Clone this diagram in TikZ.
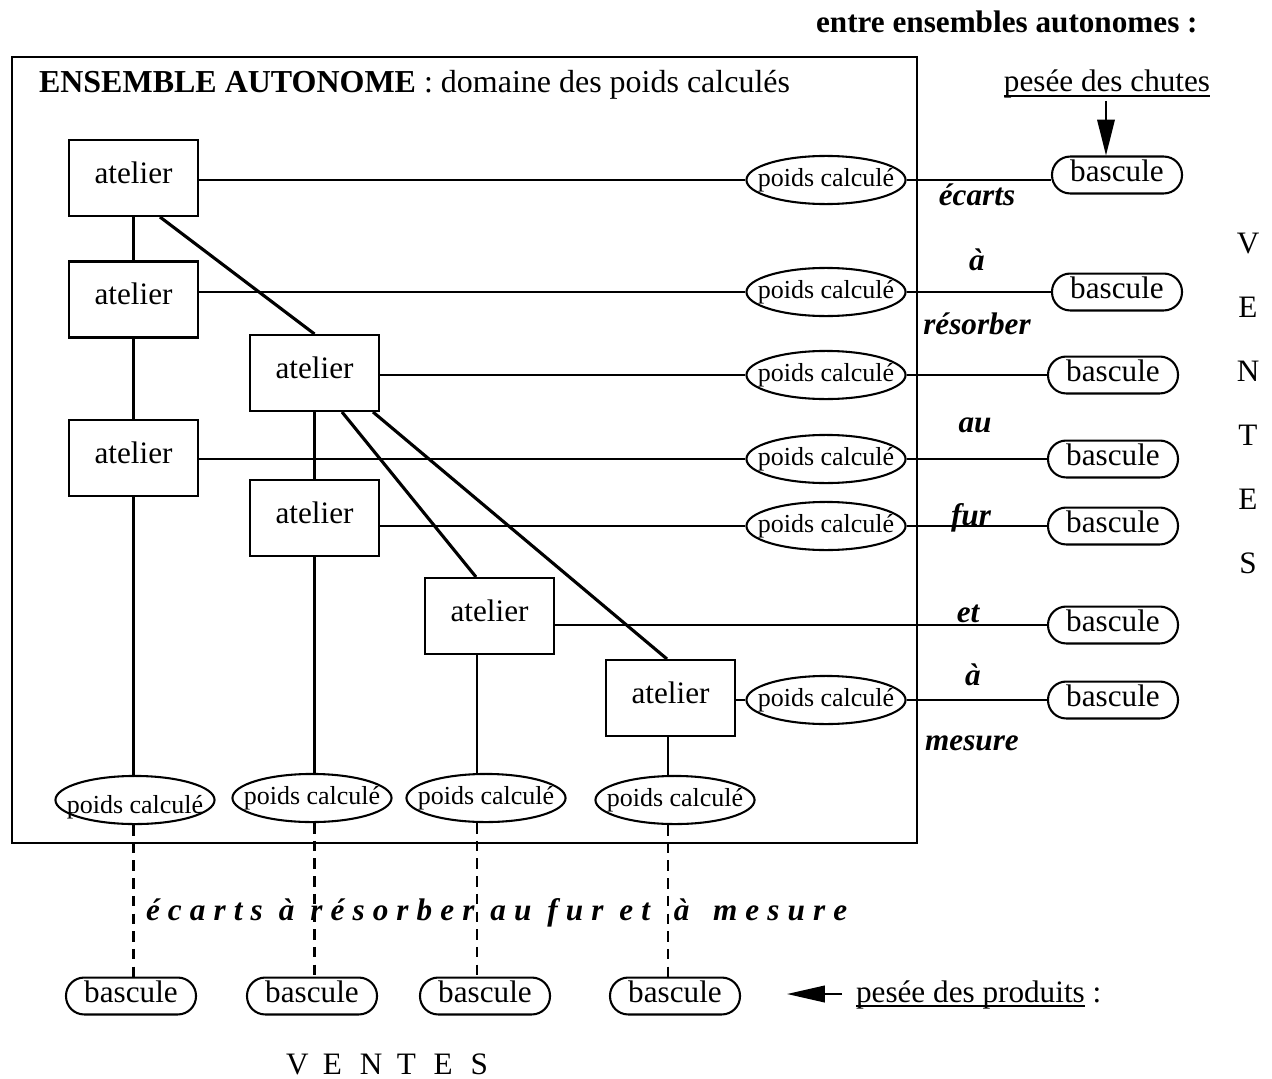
\documentclass[tikz,border=0pt]{standalone}
\usepackage{fontspec}
\setmainfont{Liberation Serif}
\usetikzlibrary{shapes.geometric,arrows.meta,calc}
% centred text of zero size, lowered by the optional amount
\newcommand\ctr[2][0.25em]{\smash{\raisebox{-#1}{\makebox[0pt]{#2}}}}
% underline sitting close to the baseline
\newcommand\ulin[1]{\leavevmode\setbox0\hbox{#1}\rlap{\rule[-1.9pt]{\wd0}{0.6pt}}\box0\relax}
% one spaced capital
\newcommand\vlet[1]{\makebox[14.2pt][l]{#1}}
\begin{document}
\begin{tikzpicture}[x=0.3846pt,y=-0.3846pt,
  font=\fontsize{12}{14}\selectfont,
  inner sep=0pt,
  line width=0.8pt,
  atel/.style={draw, rectangle, minimum width=49.6pt, minimum height=29.2pt, inner sep=0pt},
  pcell/.style={draw, ellipse, minimum width=61.2pt, minimum height=18.5pt, inner sep=0pt,
    font=\fontsize{10}{12}\selectfont},
  bsc/.style={draw, rectangle, rounded corners=7pt, minimum width=50pt, minimum height=14.2pt, inner sep=0pt},
  lbl/.style={anchor=base, font=\fontsize{12}{14}\selectfont\bfseries\itshape},
  vtx/.style={anchor=base},
  thicklink/.style={line width=1.2pt},
  dashlink/.style={dash pattern=on 4pt off 2.8pt},
  arrowdown/.style={-{Triangle[length=13.8pt,width=6.7pt]}},
  arrowleft/.style={-{Triangle[length=14.6pt,width=6.4pt]}}
]
\useasboundingbox (0,0) rectangle (1272,1079);

% frame of the autonomous set
\draw[line width=1pt] (12,57) rectangle (917,843);
\node[anchor=base west, font=\fontsize{12.3}{14}\selectfont] (title) at (38,93) {\textbf{ENSEMBLE AUTONOME} : domaine des poids calculés};
\node[anchor=base west, font=\fontsize{12}{14}\selectfont\bfseries] (entre) at (815,33) {entre ensembles autonomes :};

% workshops
\node[atel] (A1) at (133.5,178) {\ctr[2pt]{atelier}};
\node[atel] (A2) at (133.5,299.5) {\ctr[2pt]{atelier}};
\node[atel] (A3) at (314.5,373) {\ctr[2pt]{atelier}};
\node[atel] (A4) at (133.5,458) {\ctr[2pt]{atelier}};
\node[atel] (A5) at (314.5,518) {\ctr[2pt]{atelier}};
\node[atel] (A6) at (489.5,616) {\ctr[2pt]{atelier}};
\node[atel] (A7) at (670.5,698) {\ctr[2pt]{atelier}};

% computed weights, right column
\node[pcell] (P1) at (826,180) {\ctr{poids calculé}};
\node[pcell] (P2) at (826,292) {\ctr{poids calculé}};
\node[pcell] (P3) at (826,375) {\ctr{poids calculé}};
\node[pcell] (P4) at (826,459) {\ctr{poids calculé}};
\node[pcell] (P5) at (826,526) {\ctr{poids calculé}};
\node[pcell] (P7) at (826,700) {\ctr{poids calculé}};

% computed weights, bottom row
\node[pcell] (B1) at (135,800) {\ctr[5pt]{poids calculé}};
\node[pcell] (B2) at (312,798) {\ctr{poids calculé}};
\node[pcell] (B3) at (486,798) {\ctr{poids calculé}};
\node[pcell] (B4) at (675,800) {\ctr{poids calculé}};

% scales, right column
\node[bsc] (S1) at (1117,175) {\ctr[0.22em]{bascule}};
\node[bsc] (S2) at (1117,292) {\ctr[0.22em]{bascule}};
\node[bsc] (S3) at (1113,375) {\ctr[0.22em]{bascule}};
\node[bsc] (S4) at (1113,459) {\ctr[0.22em]{bascule}};
\node[bsc] (S5) at (1113,526) {\ctr[0.22em]{bascule}};
\node[bsc] (S6) at (1113,625) {\ctr[0.22em]{bascule}};
\node[bsc] (S7) at (1113,700) {\ctr[0.22em]{bascule}};

% scales, bottom row
\node[bsc] (Q1) at (131,996) {\ctr[0.22em]{bascule}};
\node[bsc] (Q2) at (312,996) {\ctr[0.22em]{bascule}};
\node[bsc] (Q3) at (485,996) {\ctr[0.22em]{bascule}};
\node[bsc] (Q4) at (675,996) {\ctr[0.22em]{bascule}};

% vertical links between workshops
\draw (A1.south) -- (A2.north);
\draw (A2.south) -- (A4.north);
\draw (A3.south) -- (A5.north);

% diagonal links
\draw[thicklink] ($(A1.south)+(26.5,0)$) -- (A3.north);
\draw[thicklink] ($(A3.south)+(27.5,0)$) -- ($(A6.north)+(-13.5,0)$);
\draw[thicklink] ($(A3.south)+(58.5,0)$) -- ($(A7.north)+(-3.5,0)$);

% down to the bottom computed weights
\coordinate (a6s) at ($(A6.south)+(-12.5,0)$);
\coordinate (a7s) at ($(A7.south)+(-2.5,0)$);
\draw (A4.south) -- (A4.south |- B1.north);
\draw (A5.south) -- (A5.south |- B2.north);
\draw (a6s) -- (a6s |- B3.north);
\draw (a7s) -- (a7s |- B4.north);

% dashed links to the bottom scales
\draw[dashlink] (B1.south -| A4.south) -- (Q1.north -| A4.south);
\draw[dashlink] (B2.south -| A5.south) -- (Q2.north -| A5.south);
\draw[dashlink] (B3.south -| a6s) -- (Q3.north -| a6s);
\draw[dashlink] (B4.south -| a7s) -- (Q4.north -| a7s);

% horizontal links
\draw (A1.east |- P1) -- (P1.west);
\draw (P1.east) -- (P1.east -| S1.west);
\draw (A2.east |- P2) -- (P2.west);
\draw (P2.east) -- (S2.west);
\draw (A3.east |- P3) -- (P3.west);
\draw (P3.east) -- (S3.west);
\draw (A4.east |- P4) -- (P4.west);
\draw (P4.east) -- (S4.west);
\draw (A5.east |- P5) -- (P5.west);
\draw (P5.east) -- (S5.west);
\draw (A6.east |- S6) -- (S6.west);
\draw (A7.east |- P7) -- (P7.west);
\draw (P7.east) -- (S7.west);

% words along the right column
\node[lbl] (w1) at (977,206) {écarts};
\node[lbl] (w2) at (977,270) {à};
\node[lbl] (w3) at (977,334) {résorber};
\node[lbl] (w4) at (975,432) {au};
\node[lbl] (w5) at (971,525) {fur};
\node[lbl] (w6) at (968,622) {et};
\node[lbl] (w7) at (973,685) {à};
\node[lbl] (w8) at (972,750) {mesure};

% VENTES, vertical
\node[vtx] (v1) at (1248,253) {V};
\node[vtx] (v2) at (1248,317) {E};
\node[vtx] (v3) at (1248,381) {N};
\node[vtx] (v4) at (1248,445) {T};
\node[vtx] (v5) at (1248,509) {E};
\node[vtx] (v6) at (1248,573) {S};

% weighing of offcuts
\node[anchor=base] (chutes) at (1107,92) {\ulin{pesée des chutes}};
\coordinate (chA) at (1106,101);
\draw[arrowdown] (chA) -- (chA |- S1.north);

% bottom spaced line
\node[anchor=base west, font=\fontsize{12}{14}\selectfont\bfseries\itshape\addfontfeature{LetterSpace=26}] (ecarts) at (145,920) {écarts à résorber au fur et\hspace{3pt} à\hspace{3pt} mesure};

% weighing of products
\node[anchor=base west] (produits) at (855,1002) {\ulin{pesée des produits} :};
\coordinate (pA) at (842,994);
\coordinate (pB) at (787,994);
\draw[arrowleft] (pA) -- (pB);

% VENTES, horizontal
\node[anchor=base west] (ventes) at (285,1074) {\vlet{V}\vlet{E}\vlet{N}\vlet{T}\vlet{E}\vlet{S}};
\end{tikzpicture}
\end{document}
